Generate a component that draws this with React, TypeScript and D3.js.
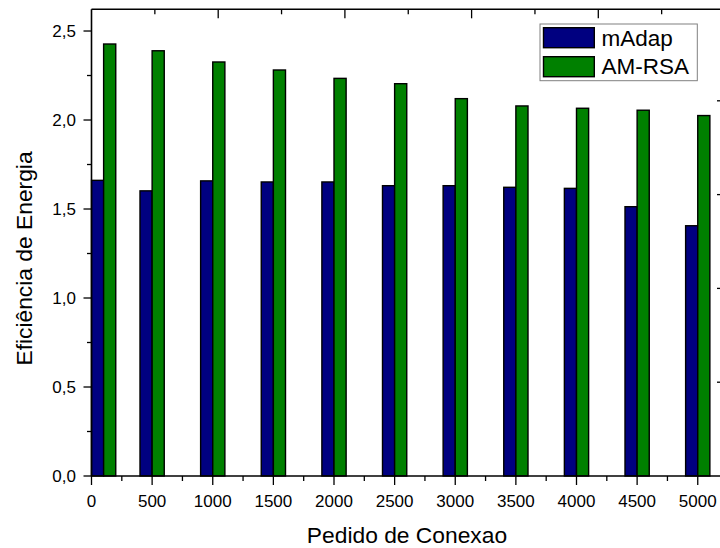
import React from "react";
import * as d3 from "d3";

const categories = [100, 500, 1000, 1500, 2000, 2500, 3000, 3500, 4000, 4500, 5000];
const mAdap = [1.661, 1.602, 1.658, 1.652, 1.652, 1.631, 1.631, 1.622, 1.616, 1.513, 1.406];
const amRsa = [2.427, 2.389, 2.326, 2.281, 2.234, 2.204, 2.12, 2.079, 2.066, 2.055, 2.025];
const seriesNames = ["mAdap", "AM-RSA"];
const seriesColors = ["#000080", "#008000"];
const xTicks = [0, 500, 1000, 1500, 2000, 2500, 3000, 3500, 4000, 4500, 5000];
const yTicks = [0, 0.5, 1.0, 1.5, 2.0, 2.5];
const xTitle = "Pedido de Conexao";
const yTitle = "Eficiência de Energia";

const W = 720;
const H = 548;
const left = 91.5;
const right = 722;
const top = 9.3;
const bottom = 476;
const FONT = "'Liberation Sans', Arial, sans-serif";

export default function App() {
  const x = d3.scaleLinear().domain([0, 5200]).range([left, right]);
  const y = d3.scaleLinear().domain([0, 2.622]).range([bottom, top]);
  const barW = 100;
  const fmt = (v: number) => v.toFixed(1).replace(".", ",");

  const xMinor = d3.range(250, 5200, 500);
  const yMinor = d3.range(0.25, 2.6, 0.5);
  // top axis (independent scale in original)
  const xTop = d3.scaleLinear().domain([0, 1]).range([left, left + 126.7]);
  const topTicks = d3.range(1, 10).map((k) => ({ v: k * 0.5, major: k % 2 === 0 }));
  const yRight = d3.scaleLinear().domain([0, 1]).range([bottom, bottom - 93.8]);
  const rightTicks = d3.range(1, 5).map((k) => k);

  const series = [mAdap, amRsa];

  return (
    <svg
      width={W}
      height={H}
      style={{ position: "absolute", left: 0, top: 0, background: "#fff" }}
      fontFamily={FONT}
    >
      <rect x={0} y={0} width={W} height={H} fill="#fff" />
      {/* bars */}
      {categories.map((c, i) =>
        series.map((s, si) => {
          const x0 = si === 0 ? c - barW : c;
          const x1 = x0 + barW;
          return (
            <rect
              key={`b${i}-${si}`}
              x={x(x0)}
              y={y(s[i])}
              width={x(x1) - x(x0)}
              height={y(0) - y(s[i])}
              fill={seriesColors[si]}
              stroke="#000"
              strokeWidth={1.4}
            />
          );
        })
      )}
      {/* frame */}
      <line x1={left} x2={right} y1={top} y2={top} stroke="#000" strokeWidth={1.6} />
      <line x1={left} x2={left} y1={top} y2={bottom} stroke="#000" strokeWidth={1.6} />
      <line x1={left} x2={right} y1={bottom} y2={bottom} stroke="#000" strokeWidth={1.6} />
      <line x1={right} x2={right} y1={top} y2={bottom} stroke="#000" strokeWidth={1.6} />
      {/* bottom ticks */}
      {xTicks.map((t) => (
        <g key={`xt${t}`}>
          <line x1={x(t)} x2={x(t)} y1={bottom} y2={bottom + 9} stroke="#000" strokeWidth={1.3} />
          <text x={x(t)} y={507} textAnchor="middle" fontSize={17} fill="#000">
            {t}
          </text>
        </g>
      ))}
      {xMinor.map((t) => (
        <line key={`xm${t}`} x1={x(t)} x2={x(t)} y1={bottom} y2={bottom + 5} stroke="#000" strokeWidth={1.3} />
      ))}
      {/* left ticks */}
      {yTicks.map((t) => (
        <g key={`yt${t}`}>
          <line x1={left - 8} x2={left} y1={y(t)} y2={y(t)} stroke="#000" strokeWidth={1.3} />
          <text x={76} y={y(t) + 6} textAnchor="end" fontSize={17} fill="#000">
            {fmt(t)}
          </text>
        </g>
      ))}
      {yMinor.map((t) => (
        <line key={`ym${t}`} x1={left - 4.5} x2={left} y1={y(t)} y2={y(t)} stroke="#000" strokeWidth={1.3} />
      ))}
      {/* top ticks */}
      {topTicks.map((t) => (
        <line
          key={`tt${t.v}`}
          x1={xTop(t.v)}
          x2={xTop(t.v)}
          y1={top}
          y2={top + (t.major ? 9 : 5)}
          stroke="#000"
          strokeWidth={1.3}
        />
      ))}
      {/* right ticks */}
      {rightTicks.map((t) => (
        <line key={`rt${t}`} x1={right - 5} x2={right} y1={yRight(t)} y2={yRight(t)} stroke="#000" strokeWidth={1.3} />
      ))}
      {/* titles */}
      <text x={407} y={543} textAnchor="middle" fontSize={22.8} fill="#000">
        {xTitle}
      </text>
      <text
        transform={`translate(32, 258.5) rotate(-90)`}
        textAnchor="middle"
        fontSize={22.8}
        fill="#000"
      >
        {yTitle}
      </text>
      {/* legend */}
      <rect x={540} y={24} width={157.3} height={56.7} fill="#fff" stroke="#808080" strokeWidth={1} />
      {seriesNames.map((n, i) => (
        <g key={`lg${i}`}>
          <rect
            x={543.5}
            y={27.7 + i * 29}
            width={50.8}
            height={20}
            fill={seriesColors[i]}
            stroke="#000"
            strokeWidth={1.4}
          />
          <text x={601.5} y={45.7 + i * 28.5} fontSize={22.5} fill="#000">
            {n}
          </text>
        </g>
      ))}
    </svg>
  );
}
